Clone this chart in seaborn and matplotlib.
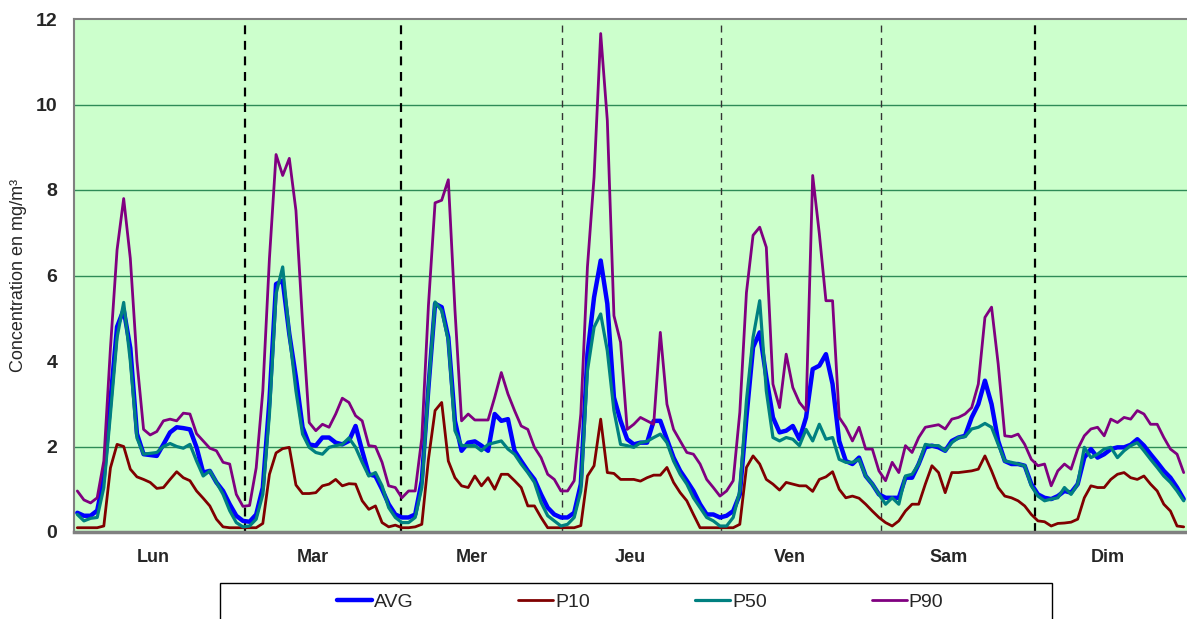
import numpy as np
import pandas as pd
import matplotlib
matplotlib.use('Agg')
import matplotlib.pyplot as plt
from matplotlib.patches import Rectangle
import seaborn as sns

# --- data (hourly profiles, 24 values per day) ---
days = ['Lun', 'Mar', 'Mer', 'Jeu', 'Ven', 'Sam', 'Dim']

avg = [
    0.45, 0.38, 0.38, 0.50, 1.27, 3.07, 4.80, 5.20, 4.30, 2.30, 1.82, 1.80, 1.78, 2.05, 2.33, 2.45, 2.43, 2.40, 1.98, 1.39, 1.43, 1.16, 0.96, 0.65,
    0.38, 0.26, 0.24, 0.41, 1.04, 3.07, 5.80, 5.88, 4.63, 3.62, 2.45, 2.05, 2.02, 2.21, 2.21, 2.09, 2.05, 2.13, 2.48, 1.90, 1.35, 1.31, 1.00, 0.65,
    0.41, 0.34, 0.34, 0.41, 1.20, 3.38, 5.34, 5.26, 4.55, 2.60, 1.90, 2.09, 2.12, 2.02, 1.90, 2.76, 2.60, 2.64, 1.90, 1.66, 1.43, 1.23, 0.88, 0.57,
    0.41, 0.34, 0.34, 0.45, 1.12, 4.16, 5.49, 6.35, 5.34, 3.15, 2.60, 2.17, 2.05, 2.09, 2.09, 2.60, 2.60, 2.17, 1.74, 1.43, 1.20, 0.96, 0.65, 0.41,
    0.41, 0.34, 0.38, 0.49, 0.88, 2.68, 4.32, 4.67, 3.62, 2.68, 2.33, 2.37, 2.48, 2.17, 2.68, 3.81, 3.89, 4.16, 3.46, 2.13, 1.66, 1.59, 1.74, 1.31,
    1.12, 0.88, 0.80, 0.80, 0.80, 1.27, 1.27, 1.59, 1.98, 2.02, 1.98, 1.90, 2.13, 2.21, 2.25, 2.68, 2.99, 3.54, 2.99, 2.13, 1.66, 1.59, 1.59, 1.55,
    1.12, 0.88, 0.80, 0.77, 0.84, 0.96, 0.92, 1.12, 1.74, 1.94, 1.74, 1.82, 1.94, 1.98, 1.98, 2.04, 2.17, 2.02, 1.82, 1.63, 1.43, 1.27, 1.04, 0.77,
]

p10 = [
    0.10, 0.10, 0.10, 0.10, 0.14, 1.50, 2.05, 2.00, 1.47, 1.29, 1.23, 1.16, 1.02, 1.04, 1.23, 1.41, 1.27, 1.20, 0.96, 0.79, 0.61, 0.30, 0.12, 0.10,
    0.10, 0.10, 0.10, 0.10, 0.20, 1.35, 1.85, 1.95, 1.98, 1.10, 0.90, 0.90, 0.92, 1.08, 1.12, 1.23, 1.08, 1.13, 1.12, 0.73, 0.53, 0.61, 0.22, 0.12,
    0.16, 0.10, 0.10, 0.12, 0.18, 1.70, 2.84, 3.03, 1.66, 1.27, 1.08, 1.04, 1.31, 1.08, 1.27, 1.00, 1.35, 1.35, 1.20, 1.04, 0.61, 0.61, 0.34, 0.10,
    0.10, 0.10, 0.10, 0.10, 0.15, 1.31, 1.55, 2.64, 1.39, 1.37, 1.23, 1.23, 1.23, 1.19, 1.27, 1.33, 1.33, 1.51, 1.16, 0.92, 0.73, 0.41, 0.10, 0.10,
    0.10, 0.10, 0.10, 0.10, 0.18, 1.51, 1.78, 1.59, 1.23, 1.12, 0.98, 1.16, 1.12, 1.08, 1.08, 0.95, 1.23, 1.29, 1.41, 1.00, 0.80, 0.84, 0.79, 0.65,
    0.49, 0.34, 0.22, 0.14, 0.26, 0.49, 0.65, 0.65, 1.12, 1.55, 1.39, 0.92, 1.39, 1.39, 1.41, 1.43, 1.47, 1.78, 1.43, 1.04, 0.84, 0.80, 0.73, 0.61,
    0.41, 0.26, 0.24, 0.14, 0.20, 0.21, 0.23, 0.30, 0.80, 1.08, 1.04, 1.04, 1.23, 1.35, 1.39, 1.27, 1.23, 1.31, 1.12, 0.96, 0.65, 0.49, 0.14, 0.12,
]

p50 = [
    0.41, 0.26, 0.32, 0.34, 1.04, 2.76, 4.55, 5.37, 4.00, 2.20, 1.82, 1.84, 1.86, 2.00, 2.07, 2.00, 1.96, 2.05, 1.66, 1.31, 1.43, 1.16, 0.88, 0.50,
    0.22, 0.12, 0.14, 0.30, 0.88, 2.76, 5.57, 6.20, 4.63, 3.30, 2.29, 1.98, 1.86, 1.82, 1.98, 2.02, 2.05, 2.20, 1.98, 1.63, 1.31, 1.39, 1.08, 0.57,
    0.34, 0.22, 0.22, 0.34, 1.04, 3.38, 5.38, 5.18, 4.48, 2.37, 2.02, 2.02, 2.02, 1.90, 2.05, 2.09, 2.13, 1.94, 1.82, 1.59, 1.39, 1.16, 0.69, 0.38,
    0.26, 0.14, 0.18, 0.34, 0.96, 3.77, 4.79, 5.10, 4.24, 2.84, 2.05, 2.02, 1.98, 2.09, 2.12, 2.21, 2.29, 2.09, 1.66, 1.35, 1.12, 0.80, 0.57, 0.34,
    0.26, 0.14, 0.14, 0.34, 0.96, 3.07, 4.55, 5.41, 3.30, 2.21, 2.13, 2.21, 2.17, 2.02, 2.40, 2.13, 2.52, 2.17, 2.21, 1.70, 1.63, 1.63, 1.70, 1.31,
    1.12, 0.88, 0.65, 0.80, 0.65, 1.31, 1.35, 1.59, 2.05, 2.02, 2.02, 1.90, 2.09, 2.21, 2.23, 2.41, 2.45, 2.54, 2.45, 2.05, 1.66, 1.63, 1.59, 1.55,
    1.08, 0.84, 0.73, 0.77, 0.80, 1.04, 0.88, 1.12, 1.98, 1.74, 1.82, 1.94, 1.98, 1.74, 1.90, 2.02, 2.09, 1.90, 1.70, 1.51, 1.31, 1.16, 0.96, 0.73,
]

p90 = [
    0.96, 0.75, 0.68, 0.80, 1.66, 4.30, 6.60, 7.80, 6.40, 4.00, 2.40, 2.27, 2.35, 2.60, 2.64, 2.60, 2.78, 2.76, 2.30, 2.13, 1.96, 1.90, 1.63, 1.59,
    0.88, 0.60, 0.62, 1.50, 3.30, 6.40, 8.83, 8.34, 8.74, 7.52, 4.90, 2.56, 2.37, 2.52, 2.45, 2.76, 3.13, 3.03, 2.72, 2.60, 2.02, 2.00, 1.63, 1.08,
    1.04, 0.80, 0.96, 0.96, 2.20, 5.30, 7.70, 7.76, 8.24, 5.20, 2.60, 2.76, 2.62, 2.62, 2.62, 3.15, 3.73, 3.23, 2.84, 2.48, 2.40, 1.98, 1.74, 1.35,
    1.23, 0.96, 0.96, 1.20, 2.76, 6.20, 8.30, 11.66, 9.63, 5.06, 4.44, 2.40, 2.52, 2.68, 2.60, 2.52, 4.67, 2.99, 2.40, 2.13, 1.86, 1.82, 1.59, 1.23,
    1.04, 0.84, 0.96, 1.20, 2.80, 5.60, 6.94, 7.13, 6.66, 3.46, 2.91, 4.16, 3.38, 3.03, 2.84, 8.34, 6.98, 5.41, 5.41, 2.68, 2.45, 2.13, 2.45, 1.94,
    1.94, 1.43, 1.20, 1.63, 1.39, 2.02, 1.86, 2.21, 2.45, 2.48, 2.51, 2.41, 2.64, 2.68, 2.76, 2.91, 3.46, 5.02, 5.26, 3.93, 2.25, 2.23, 2.29, 2.05,
    1.70, 1.55, 1.59, 1.08, 1.43, 1.59, 1.47, 1.94, 2.25, 2.41, 2.45, 2.25, 2.64, 2.56, 2.68, 2.64, 2.84, 2.76, 2.52, 2.52, 2.21, 1.94, 1.82, 1.39,
]

# dashed day separators (in hours) and whether they are drawn heavy
separators = [25.8, 49.4, 73.7, 97.7, 121.8, 145.1]
sep_heavy = [True, True, False, False, False, True]

y_ticks = [0, 2, 4, 6, 8, 10, 12]
grid_levels = [2, 6, 8, 10]

series = {'AVG': avg, 'P10': p10, 'P50': p50, 'P90': p90}
colors = {'AVG': '#0000FF', 'P10': '#800000', 'P50': '#008080', 'P90': '#800080'}
widths = {'AVG': 3.2, 'P10': 2.0, 'P50': 2.3, 'P90': 2.0}

n = len(avg)
df = pd.concat([
    pd.DataFrame({'hour': np.arange(n) + 0.5, 'value': vals, 'serie': name})
    for name, vals in series.items()
])

sns.set_style('white')
plt.rcParams['font.family'] = ['Liberation Sans', 'DejaVu Sans']

fig = plt.figure(figsize=(11.87, 6.19), dpi=100)
ax = fig.add_axes([74 / 1187, 1 - 532 / 619, 1113 / 1187, 513 / 619])
ax.set_facecolor('#CCFFCC')

for lvl in grid_levels:
    ax.axhline(lvl, color='#2E8B57', lw=1.0, zorder=0.5)

for pos, heavy in zip(separators, sep_heavy):
    if heavy:
        ax.axvline(pos, color='black', lw=1.6, ls=(0, (4, 3)), ymax=0.995, zorder=1)
    else:
        ax.axvline(pos, color='#333333', lw=1.0, ls=(0, (5, 4)), ymax=0.995, zorder=1)

handles = []
for name in series:
    sns.lineplot(data=df[df['serie'] == name], x='hour', y='value', ax=ax,
                 color=colors[name], linewidth=widths[name], legend=False, zorder=3)
    ax.lines[-1].set_label(name)
    handles.append(ax.lines[-1])

ax.set_xlim(0, n)
ax.set_ylim(0, 12)
ax.set_yticks(y_ticks)
ax.set_yticklabels([str(v) for v in y_ticks], fontsize=14, fontweight='bold')
ax.set_xticks(np.arange(0, n + 1, 24))
ax.set_xticklabels([])
ax.set_xticks(np.arange(12, n, 24), minor=True)
ax.set_xticklabels(days, minor=True, fontsize=13, fontweight='bold')
ax.tick_params(axis='x', which='major', direction='out', length=5, width=1.5, color='black')
ax.tick_params(axis='x', which='minor', length=0, pad=12)
ax.tick_params(axis='y', direction='out', length=4, width=1.5, color='black', pad=8)
ax.set_xlabel('')
ax.set_ylabel('Concentration en mg/m³', fontsize=13)
ax.yaxis.set_label_coords(-0.042, 0.5)

for side in ['left', 'top']:
    ax.spines[side].set_color('#808080')
    ax.spines[side].set_linewidth(1.5)
ax.spines['bottom'].set_color('#808080')
ax.spines['bottom'].set_linewidth(2.5)
ax.spines['right'].set_visible(False)

# legend box running off the bottom edge
fig.patches.append(Rectangle((220 / 1187, -0.05), 832 / 1187, 0.05 + 1 - 583 / 619,
                             transform=fig.transFigure, facecolor='white',
                             edgecolor='black', lw=1.0, clip_on=False))
fig.legend(handles=handles, labels=list(series), loc='center', ncol=4,
           bbox_to_anchor=(640 / 1187, 1 - 602 / 619), frameon=False,
           fontsize=14, handlelength=1.8, handletextpad=0.1, columnspacing=5.4)

fig.savefig('out.png', dpi=100)
